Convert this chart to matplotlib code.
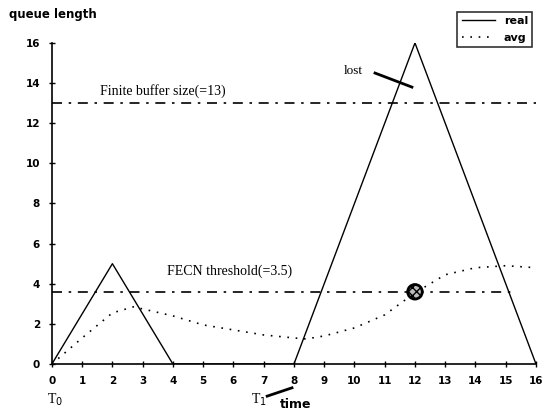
import numpy as np
import matplotlib.pyplot as plt

# queue length over time
real_t = [0, 2, 4, 8, 12, 16]
real_q = [0, 5, 0, 0, 16, 0]

avg_t = [0, 1, 2, 2.7, 4, 5, 6, 7, 8, 8.4, 9, 10, 11, 12, 13, 14, 15, 16]
avg_q = [0, 1.3, 2.55, 2.85, 2.4, 1.95, 1.7, 1.45, 1.3, 1.25, 1.4, 1.8, 2.45, 3.55, 4.45, 4.8, 4.9, 4.8]

buffer_size = 13
fecn_threshold = 3.6
mark_t, mark_q = 12, 3.6

x_ticks = list(range(0, 17))
y_ticks = list(range(0, 17, 2))

fig = plt.figure(figsize=(5.52, 4.17), dpi=100)
ax = fig.add_axes([0.094, 0.127, 0.877, 0.770])

ax.plot(real_t, real_q, color='black', lw=1.0, label='real')
ax.plot(avg_t, avg_q, color='black', lw=1.2, ls=(0, (1, 4)), label='avg')

ax.plot([0, 16], [buffer_size, buffer_size], color='black', lw=1.2, ls=(0, (6, 4, 1.5, 4)))
ax.plot([0, 15.3], [fecn_threshold, fecn_threshold], color='black', lw=1.2, ls=(0, (6, 4, 1.5, 4)))

ax.scatter([mark_t], [mark_q], s=110, facecolor='#bbbbbb', edgecolor='black',
           linewidth=2, hatch='xxxx', zorder=5)

serif = 'Liberation Serif'
ax.text(1.6, 13.6, 'Finite buffer size(=13)', fontsize=10, family=serif, va='center')
ax.text(3.8, 4.6, 'FECN threshold(=3.5)', fontsize=10, family=serif, va='center')
ax.text(9.65, 14.6, 'lost', fontsize=9.5, family=serif, va='center')
ax.plot([10.68, 11.9], [14.5, 13.8], color='black', lw=2)

ax.set_xlim(0, 16)
ax.set_ylim(0, 16)
ax.set_xticks(x_ticks)
ax.set_yticks(y_ticks)
ax.tick_params(direction='inout', length=5, width=1, labelsize=7.5, pad=6)
for lab in ax.get_xticklabels() + ax.get_yticklabels():
    lab.set_fontweight('bold')
ax.spines['top'].set_visible(False)
ax.spines['right'].set_visible(False)
ax.spines['left'].set_linewidth(1.2)
ax.spines['bottom'].set_linewidth(1.2)

fig.text(0.017, 0.965, 'queue length', fontsize=8.5, fontweight='bold', va='center')
fig.text(0.085, 0.041, 'T$_0$', fontsize=10, family=serif, va='center')
fig.text(0.455, 0.041, 'T$_1$', fontsize=10, family=serif, va='center')
fig.add_artist(plt.Line2D([0.484, 0.529], [0.050, 0.070], color='black', lw=2))
fig.text(0.507, 0.029, 'time', fontsize=9, fontweight='bold', va='center')

leg = fig.legend(loc='upper left', bbox_to_anchor=(0.818, 0.985), fontsize=8,
                 frameon=True, fancybox=False, edgecolor='black', handlelength=3,
                 borderpad=0.4, labelspacing=0.6, markerfirst=True)
leg.get_frame().set_linewidth(1.2)
for t in leg.get_texts():
    t.set_fontweight('bold')

fig.savefig('out.png', dpi=100)
